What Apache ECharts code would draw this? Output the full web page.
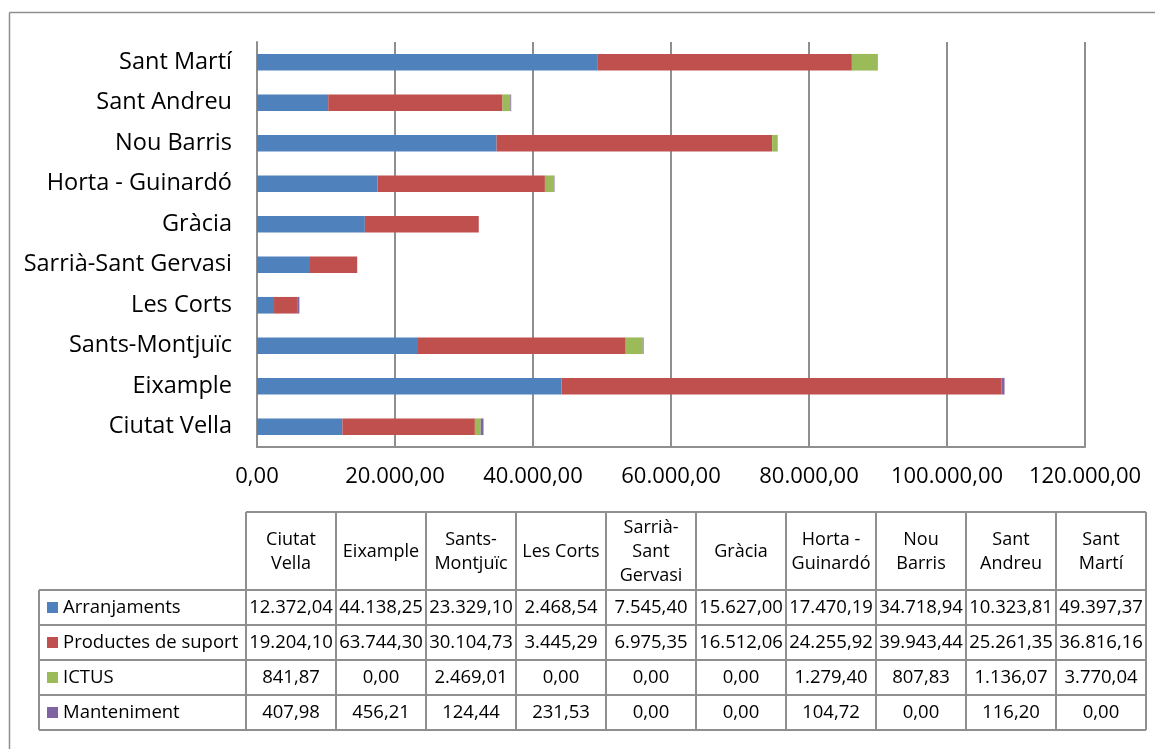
<!DOCTYPE html>
<html><head><meta charset="utf-8">
<script src="https://cdn.jsdelivr.net/npm/echarts@6/dist/echarts.min.js"></script>
<style>html,body{margin:0;padding:0;background:#fff}#c{width:1155px;height:749px}</style>
</head><body><div id="c"></div>
<script>
const categories = ['Ciutat Vella','Eixample','Sants-Montjuïc','Les Corts','Sarrià-Sant Gervasi','Gràcia','Horta - Guinardó','Nou Barris','Sant Andreu','Sant Martí'];
const headerLabels = ['Ciutat\nVella','Eixample','Sants-\nMontjuïc','Les Corts','Sarrià-\nSant\nGervasi','Gràcia','Horta -\nGuinardó','Nou\nBarris','Sant\nAndreu','Sant\nMartí'];
const seriesNames = ['Arranjaments','Productes de suport','ICTUS','Manteniment'];
const arranjaments = [12372.04,44138.25,23329.10,2468.54,7545.40,15627.00,17470.19,34718.94,10323.81,49397.37];
const productes = [19204.10,63744.30,30104.73,3445.29,6975.35,16512.06,24255.92,39943.44,25261.35,36816.16];
const ictus = [841.87,0,2469.01,0,0,0,1279.40,807.83,1136.07,3770.04];
const manteniment = [407.98,456.21,124.44,231.53,0,0,104.72,0,116.20,0];
const seriesValues = [arranjaments, productes, ictus, manteniment];
const colors = ['#4F81BD','#C0504D','#9BBB59','#8064A2'];

function fmt(v){
  const parts = Number(v).toFixed(2).split('.');
  return parts[0].replace(/\B(?=(\d{3})+(?!\d))/g,'.') + ',' + parts[1];
}

const FONT = '"Open Sans", "Noto Sans", sans-serif';
const lineColor = '#8f8f8f';
const graphics = [];
// outer frame
graphics.push({type:'line', shape:{x1:9.5,y1:12.5,x2:1160,y2:12.5}, style:{stroke:lineColor,lineWidth:1.5}, silent:true});
graphics.push({type:'line', shape:{x1:9.5,y1:12.5,x2:9.5,y2:760}, style:{stroke:lineColor,lineWidth:1.5}, silent:true});

// table layout
const colX0 = 246, colW = 90, headTop = 512, headBot = 590, rowH = 35, legLeft = 39;
const nCols = categories.length, nRows = seriesNames.length;
const tableRight = colX0 + nCols*colW;
const tableBot = headBot + nRows*rowH;
const tl = (x1,y1,x2,y2)=>graphics.push({type:'line', shape:{x1,y1,x2,y2}, style:{stroke:lineColor,lineWidth:2}, silent:true});
tl(colX0, headTop, tableRight, headTop);
for (let r=0;r<=nRows;r++) tl(legLeft, headBot+r*rowH, tableRight, headBot+r*rowH);
tl(legLeft, headBot, legLeft, tableBot);
for (let c=0;c<=nCols;c++) tl(colX0+c*colW, headTop, colX0+c*colW, tableBot);

headerLabels.forEach((h,c)=>{
  graphics.push({type:'text', silent:true, style:{text:h, x:colX0+c*colW+colW/2, y:(headTop+headBot)/2+1,
    textAlign:'center', textVerticalAlign:'middle', fontFamily:FONT, fontSize:18, lineHeight:24, fill:'#000'}});
});
seriesNames.forEach((name,r)=>{
  const cy = headBot + r*rowH + rowH/2;
  graphics.push({type:'rect', silent:true, shape:{x:47, y:cy-5.5, width:11, height:11}, style:{fill:colors[r]}});
  graphics.push({type:'text', silent:true, style:{text:name, x:63, y:cy, textAlign:'left', textVerticalAlign:'middle',
    fontFamily:FONT, fontSize:18.5, fill:'#000'}});
  seriesValues[r].forEach((v,c)=>{
    graphics.push({type:'text', silent:true, style:{text:fmt(v), x:colX0+c*colW+colW/2, y:cy, textAlign:'center', textVerticalAlign:'middle',
      fontFamily:FONT, fontSize:18.5, fill:'#000'}});
  });
});

const chart = echarts.init(document.getElementById('c'), null, {renderer:'canvas'});
chart.setOption({
  animation:false,
  backgroundColor:'#fff',
  textStyle:{fontFamily:FONT},
  grid:{left:257, top:42, width:828, height:405, containLabel:false},
  xAxis:{type:'value', min:0, max:120000, interval:20000,
    axisLine:{show:true, lineStyle:{color:lineColor, width:2}},
    axisTick:{show:false},
    splitLine:{show:true, lineStyle:{color:lineColor, width:2}},
    axisLabel:{formatter:fmt, fontSize:22, color:'#000', margin:19, fontFamily:FONT}},
  yAxis:{type:'category', data:categories,
    axisLine:{show:true, lineStyle:{color:lineColor, width:2}},
    axisTick:{show:false},
    axisLabel:{fontSize:23.5, color:'#000', margin:25, fontFamily:FONT}},
  series: seriesNames.map((n,i)=>({name:n, type:'bar', stack:'total', data:seriesValues[i], barCategoryGap:'59%',
    itemStyle:{color:colors[i]}})),
  graphic: graphics
});
</script></body></html>
